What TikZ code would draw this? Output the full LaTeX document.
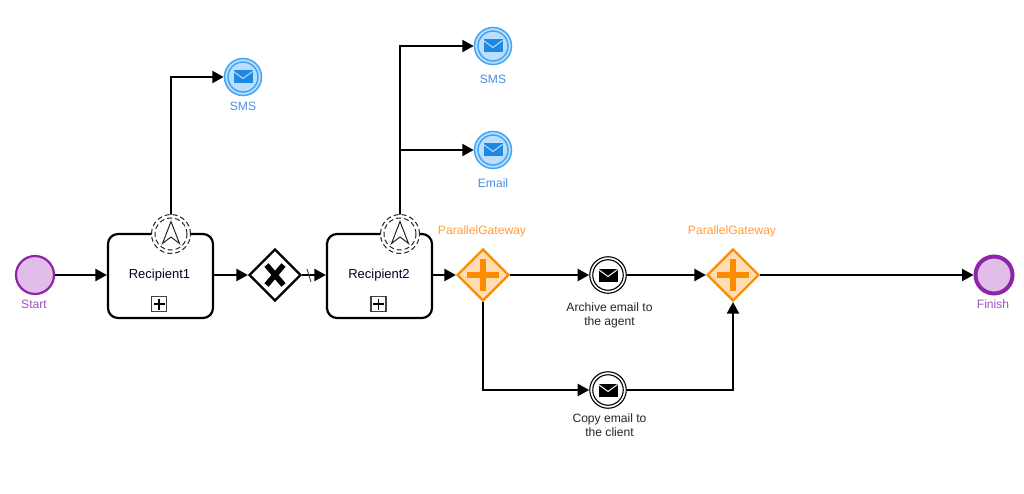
\documentclass[tikz,border=0pt]{standalone}
\usepackage{fontspec}
\setmainfont{Liberation Sans}
\usetikzlibrary{arrows.meta,shapes.geometric,calc}
\definecolor{purp}{HTML}{8E24AA}
\definecolor{purptxt}{HTML}{A050BC}
\definecolor{purpfill}{HTML}{E1BEE7}
\definecolor{bluee}{HTML}{42A5F5}
\definecolor{bluefill}{HTML}{BBDEFB}
\definecolor{blueicon}{HTML}{1E88E5}
\definecolor{bluetxt}{HTML}{4A90E2}
\definecolor{orng}{HTML}{FB8C00}
\definecolor{orngfill}{HTML}{FFDDB0}
\definecolor{orngtxt}{HTML}{FF9F40}
\tikzset{
 x=1pt,y=-1pt,
 flow/.style={line width=2.2pt,draw=black,-{Triangle[length=11.5pt,width=12pt]}},
 startev/.style={circle,draw=purp,fill=purpfill,line width=2.2pt,minimum size=38pt,inner sep=0pt},
 endev/.style={circle,draw=purp,fill=purpfill,line width=4pt,minimum size=37pt,inner sep=0pt},
 taskbox/.style={rectangle,rounded corners=10pt,draw=black,fill=white,line width=2.2pt,minimum width=105pt,minimum height=84pt,inner sep=0pt},
 boundary/.style={circle,draw=black!85,fill=white,line width=1pt,dash pattern=on 5pt off 3pt,minimum size=39pt,inner sep=0pt},
 boundaryin/.style={circle,draw=black!85,line width=1pt,dash pattern=on 5pt off 3pt,minimum size=32pt,inner sep=0pt},
 xgate/.style={diamond,aspect=1,draw=black,fill=white,line width=2.2pt,minimum size=52pt,inner sep=0pt},
 pgate/.style={diamond,aspect=1,draw=orng,fill=orngfill,line width=2.2pt,minimum size=52pt,inner sep=0pt},
 msgev/.style={circle,draw=black,fill=white,line width=1.1pt,minimum size=36.5pt,inner sep=0pt},
 msgin/.style={circle,draw=black,line width=1.1pt,minimum size=30.5pt,inner sep=0pt},
 bluev/.style={circle,draw=bluee,fill=bluefill,line width=1.5pt,minimum size=37pt,inner sep=0pt},
 bluein/.style={circle,draw=bluee,line width=1.5pt,minimum size=30pt,inner sep=0pt},
 lbl/.style={font=\fontsize{12.1}{14}\selectfont,align=center,inner sep=0pt},
 tasklbl/.style={font=\fontsize{13}{15}\selectfont,inner sep=0pt},
}
\newcommand{\envelope}[3]{%
 \fill[#3] ($(#1)+(-9.5,-6.5)$) rectangle ($(#1)+(9.5,6.5)$);
 \draw[#2,line width=1pt] ($(#1)+(-9.5,-5.5)$) -- ($(#1)+(0,1.5)$) -- ($(#1)+(9.5,-5.5)$);
}
\newcommand{\navsym}[1]{%
 \draw[black!85,line width=1pt,line join=miter] ($(#1)+(0,-12.5)$) -- ($(#1)+(8.5,9.5)$) -- ($(#1)+(0,3)$) -- ($(#1)+(-8.5,9.5)$) -- cycle;
}
\newcommand{\plusbox}[1]{%
 \draw[black!75,line width=1.1pt] ($(#1)+(-7.5,-7.5)$) rectangle ($(#1)+(7.5,7.5)$);
 \draw[black,line width=1.8pt] ($(#1)+(-5.5,0)$) -- ($(#1)+(5.5,0)$) ($(#1)+(0,-5.5)$) -- ($(#1)+(0,5.5)$);
}
\begin{document}
\begin{tikzpicture}
\useasboundingbox (0,0) rectangle (1024,494);
\fill[white] (0,0) rectangle (1024,494);

\node[startev] (start) at (35,275) {};
\node[endev] (finish) at (994,275) {};
\node[taskbox] (t1) at (160.5,276) {};
\node[taskbox] (t2) at (379.5,276) {};
\node[xgate] (gx) at (275,275) {};
\node[pgate] (p1) at (483,275) {};
\node[pgate] (p2) at (733,275) {};
\node[msgev] (arch) at (608,275) {};
\node[msgev] (copy) at (608,390) {};
\node[bluev] (sms1) at (243,77) {};
\node[bluev] (sms2) at (493,46) {};
\node[bluev] (email) at (493,150) {};
\coordinate (b1pos) at (171,234);
\coordinate (b2pos) at (400,234);

% connectors
\draw[flow] (start.east) -- (t1.west |- start.east);
\draw[flow] (t1.east |- gx.west) -- (gx.west);
\draw[flow] (gx.east) -- (t2.west |- gx.east);
\draw[flow] (t2.east |- p1.west) -- (p1.west);
\draw[flow] (p1.east) -- (arch.west);
\draw[flow] (arch.east) -- (p2.west);
\draw[flow] (p2.east) -- (finish.west);
\draw[flow] (p1.south) |- (copy.west);
\draw[flow] (copy.east) -| (p2.south);
\draw[flow] (b1pos) |- (sms1.west);
\draw[flow] (b2pos) |- (sms2.west);
\draw[flow] (b2pos) |- (email.west);
\coordinate (sa) at (307,269);
\coordinate (sb) at (311,282);
\draw[black!75,line width=.9pt] (sa) -- (sb);

% boundary events
\node[boundary] (b1) at (b1pos) {};
\node[boundaryin] (b1i) at (b1pos) {};
\node[boundary] (b2) at (b2pos) {};
\node[boundaryin] (b2i) at (b2pos) {};
\navsym{b1pos}
\navsym{b2pos}

% task contents
\node[tasklbl,text=black!85!blue] (t1l) at (159.5,275) {Recipient1};
\node[tasklbl,text=black!85!blue] (t2l) at (379,275) {Recipient2};
\coordinate (pb1) at (159,304);
\coordinate (pb2) at (378.5,304);
\plusbox{pb1}
\plusbox{pb2}

% exclusive gateway mark
\draw[black,line width=5.5pt] ($(gx)+(-8.5,-10)$) -- ($(gx)+(8.5,10)$) ($(gx)+(8.5,-10)$) -- ($(gx)+(-8.5,10)$);

% parallel marks
\foreach \g in {p1,p2}{
 \draw[orng,line width=6.5pt] ($(\g)+(-16,0)$) -- ($(\g)+(16,0)$) ($(\g)+(0,-16)$) -- ($(\g)+(0,16)$);
}

% message events
\node[msgin] (archi) at (arch) {};
\node[msgin] (copyi) at (copy) {};
\envelope{arch}{white}{black}
\envelope{copy}{white}{black}
\node[bluein] (sms1i) at (sms1) {};
\node[bluein] (sms2i) at (sms2) {};
\node[bluein] (emaili) at (email) {};
\envelope{sms1}{bluefill}{blueicon}
\envelope{sms2}{bluefill}{blueicon}
\envelope{email}{bluefill}{blueicon}

% labels
\node[lbl,text=purptxt] (ls) at (34,304) {Start};
\node[lbl,text=purptxt] (lf) at (993,304) {Finish};
\node[lbl,text=bluetxt] (l1) at (243,106) {SMS};
\node[lbl,text=bluetxt] (l2) at (493,79) {SMS};
\node[lbl,text=bluetxt] (l3) at (493,183) {Email};
\node[lbl,text=orngtxt] (l4) at (482,231) {ParallelGateway};
\node[lbl,text=orngtxt] (l5) at (732,231) {ParallelGateway};
\node[lbl,text=black!85] (l6) at (609.5,315.5) {Archive email to\\the agent};
\node[lbl,text=black!85] (l7) at (609.5,425) {Copy email to\\the client};
\end{tikzpicture}
\end{document}
